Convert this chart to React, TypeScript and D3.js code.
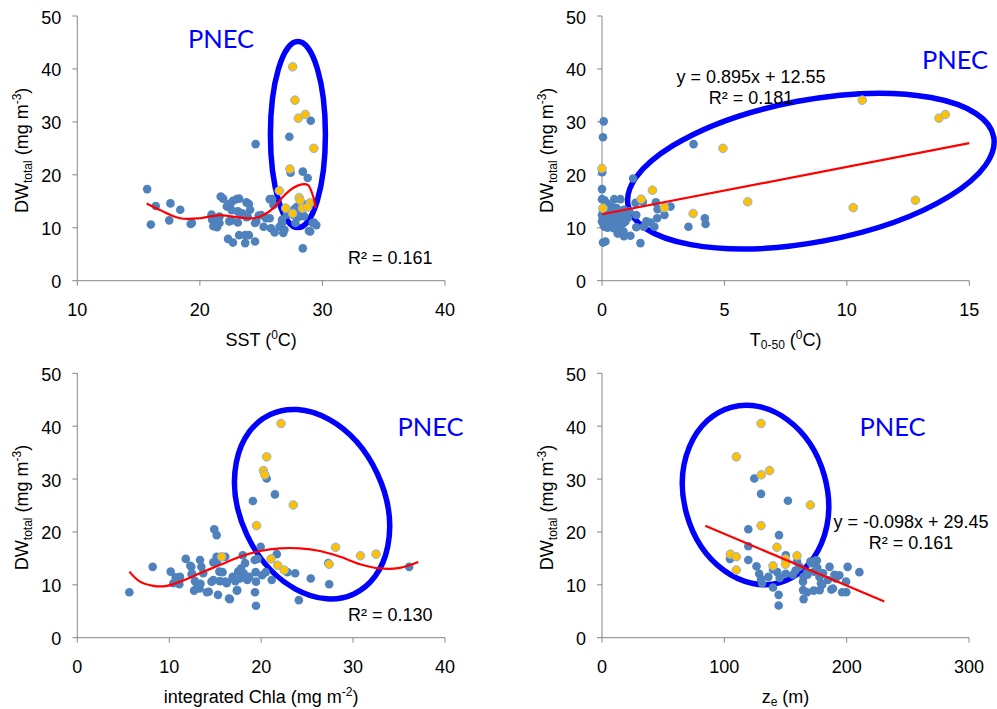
import React from 'react';
import * as d3 from 'd3';

type Pt = [number, number];

const yTicks = [0, 10, 20, 30, 40, 50];

// ---------- Panel 1: SST ----------
const sstTicks = [10, 20, 30, 40];
const sstBlue: Pt[] = [
  [15.7, 17.3], [16.0, 10.6], [16.4, 14.1], [17.5, 11.4], [17.6, 14.6], [18.4, 13.4], [19.25, 10.7], [19.35, 10.9],
  [20.95, 12.5], [21.0, 11.5], [21.1, 10.3], [21.3, 11.2], [21.4, 10.1], [21.6, 10.9], [21.6, 12.1], [21.7, 15.9], [21.9, 15.5],
  [22.2, 14.0], [22.3, 14.3], [22.5, 14.6], [22.7, 15.1], [23.0, 15.4], [23.2, 15.5], [22.4, 11.2], [22.6, 13.3], [22.6, 11.4],
  [23.1, 13.1], [23.1, 11.0], [23.3, 12.8], [23.3, 12.5], [23.5, 12.7], [23.8, 12.0],
  [22.3, 7.9], [22.7, 7.2], [23.2, 8.6], [23.7, 8.6], [23.7, 7.1], [24.0, 8.6], [24.5, 7.4],
  [23.8, 14.8], [24.0, 14.5], [24.1, 13.4], [23.9, 12.1], [24.5, 10.9], [24.6, 11.2], [24.8, 12.3], [25.0, 12.4],
  [25.2, 10.2], [25.4, 11.8], [25.7, 11.8], [25.8, 9.9], [26.1, 9.1], [26.8, 9.0], [26.5, 10.2], [26.7, 10.9],
  [24.55, 25.8], [25.7, 15.4], [26.0, 14.3], [25.9, 15.4],
  [27.3, 27.2], [27.4, 20.4], [28.4, 20.6], [28.8, 19.4], [29.05, 30.2], [28.4, 6.1], [29.0, 9.3], [29.5, 10.5],
  [29.3, 11.0], [29.2, 10.9], [28.9, 9.4],
  [27.7, 13.5], [27.8, 10.9], [27.6, 12.4], [27.9, 13.9], [28.1, 12.1], [28.3, 12.4], [28.5, 12.2], [28.2, 13.0],
  [27.1, 12.5], [26.7, 11.5], [26.9, 9.6], [28.6, 14.4],
];
const sstPnec: Pt[] = [
  [27.57, 40.4], [27.76, 34.1], [28.03, 30.7], [28.6, 31.4], [29.3, 25.0], [27.35, 21.1], [26.48, 17.0],
  [28.1, 15.7], [28.17, 15.2], [27.0, 13.7], [27.57, 12.7], [28.36, 13.7], [28.98, 14.7], [28.8, 13.9],
];
const sstTrend: Pt[] = [
  [15.66, 14.6], [16.75, 13.35], [18.38, 11.8], [20.0, 11.8], [21.6, 12.4], [22.7, 12.1], [24.36, 11.8],
  [25.2, 12.4], [26.0, 13.7], [26.8, 15.9], [27.6, 17.5], [28.3, 18.2], [28.8, 18.1], [29.25, 15.9], [29.45, 13.7],
];

// ---------- Panel 2: T0-50 ----------
const tTicks = [0, 5, 10, 15];
const tBlue: Pt[] = [
  [0.07, 30.1], [0.04, 27.1], [0.01, 20.5], [0.0, 17.3], [0.0, 15.4], [0.1, 15.2], [0.04, 13.4], [0.04, 7.2], [0.14, 7.4],
  [0.5, 15.4], [0.75, 15.4], [0.4, 14.0], [0.2, 14.6], [0.6, 13.7], [0.9, 13.4], [0.3, 13.0],
  [0.0, 12.4], [0.05, 11.8], [0.0, 11.2], [0.06, 10.6], [0.1, 10.2], [0.17, 12.0], [0.2, 11.3], [0.27, 10.5],
  [0.3, 12.3], [0.36, 11.6], [0.42, 10.3], [0.46, 12.6], [0.5, 11.1], [0.57, 10.6], [0.62, 12.1], [0.66, 11.4],
  [0.72, 10.1], [0.75, 12.8], [0.82, 11.7], [0.86, 10.8], [0.92, 12.3], [0.96, 11.2], [1.02, 12.6], [1.06, 11.9],
  [1.12, 13.1], [0.22, 10.0], [0.47, 9.9],
  [0.64, 8.9], [0.88, 9.3], [0.9, 8.4], [1.16, 8.5], [1.57, 7.1],
  [1.27, 19.3], [1.37, 14.7], [1.67, 14.9], [1.4, 12.4], [1.4, 10.1], [1.7, 10.2], [1.81, 11.2], [1.97, 11.0],
  [2.14, 10.2], [2.25, 11.8], [2.2, 14.8], [2.27, 13.5], [2.55, 12.4], [2.8, 14.0], [3.74, 25.8], [3.53, 10.2],
  [4.2, 11.8], [4.23, 10.7],
];
const tPnec: Pt[] = [
  [0.0, 21.2], [0.04, 13.7], [1.6, 15.4], [2.06, 17.1], [2.55, 13.8], [3.72, 12.7], [4.94, 25.0], [5.95, 14.9],
  [10.26, 13.8], [10.63, 34.1], [12.8, 15.2], [13.76, 30.7], [14.02, 31.4],
];
const tSlope = 0.895;
const tIntercept = 12.55;
const tFitRange = [0, 15];

// ---------- Panel 3: integrated Chla ----------
const chlaTicks = [0, 10, 20, 30, 40];
const chlaBlue: Pt[] = [
  [5.66, 8.6], [8.2, 13.4], [10.16, 12.5], [10.45, 10.3], [11.1, 10.1], [11.17, 11.5], [11.8, 14.9], [12.3, 13.6],
  [12.44, 12.0], [12.8, 10.7], [12.7, 8.9], [13.3, 9.3], [13.35, 14.7], [13.5, 13.4], [13.7, 12.2], [14.1, 8.6],
  [14.6, 10.6], [14.8, 14.25], [14.9, 20.5], [15.16, 19.4], [15.16, 15.3], [15.3, 8.1], [15.45, 12.5], [15.5, 10.7],
  [15.8, 12.4], [16.1, 15.3], [16.25, 10.3], [16.6, 7.3], [16.9, 11.5], [17.2, 10.7], [17.4, 9.0], [17.5, 12.5],
  [17.8, 13.1], [17.9, 11.4], [18.0, 15.6], [18.25, 14.1], [18.7, 11.5], [19.1, 25.85], [19.3, 14.7], [19.4, 12.4],
  [19.44, 10.6], [19.33, 8.6], [19.44, 6.05], [19.95, 17.2], [20.5, 12.4], [20.6, 30.1], [21.5, 27.1], [21.15, 10.9],
  [21.7, 15.8], [22.85, 12.4], [23.7, 12.2], [24.1, 7.1], [25.4, 11.2], [27.4, 10.1], [27.3, 14.1], [36.1, 13.4],
  [10.7, 11.4], [11.0, 10.7], [12.4, 13.4], [12.5, 12.1], [13.0, 9.4], [13.4, 10.2], [14.3, 8.7], [14.8, 10.9],
  [15.2, 14.3], [16.1, 10.6], [16.5, 7.4], [16.9, 11.1], [17.35, 8.9], [17.7, 11.2], [18.1, 12.2], [18.5, 10.9],
  [19.6, 14.9], [20.1, 11.8],
];
const chlaPnec: Pt[] = [
  [22.16, 40.5], [20.6, 34.2], [20.24, 31.6], [20.4, 30.8], [23.5, 25.1], [19.5, 21.2], [15.7, 15.3], [21.07, 14.9],
  [21.8, 13.7], [22.5, 12.8], [28.1, 17.1], [27.4, 13.9], [30.8, 15.5], [32.5, 15.8],
];
const chlaTrend: Pt[] = [
  [5.66, 12.5], [6.82, 10.6], [8.27, 9.8], [9.73, 9.8], [11.18, 10.6], [13.35, 12.2], [15.5, 13.75], [17.7, 15.3],
  [19.9, 16.4], [22.06, 16.9], [24.2, 16.9], [26.4, 16.4], [28.6, 15.3], [30.76, 13.9], [32.9, 13.1], [35.1, 13.2], [37.1, 14.3],
];

// ---------- Panel 4: ze ----------
const zeTicks = [0, 100, 200, 300];
const zeBlue: Pt[] = [
  [124.5, 30.1], [130, 27.2], [152, 25.9], [119.6, 20.5], [144.7, 19.4], [119.6, 17.3], [104.6, 14.9], [119.6, 14.7],
  [126.3, 13.5], [128.5, 12.1], [130, 11.1], [130.8, 10.3], [136, 11.5], [139.8, 12.9], [139.8, 9.5], [143.3, 12.4],
  [145.2, 11.3], [144.4, 8.1], [144.4, 6.1], [150.2, 15.6], [150.2, 12.1], [156, 11.9], [158.2, 12.7], [161.4, 13.4],
  [159.4, 14.4], [164.7, 11.5], [164.3, 10.6], [167.7, 12.3], [171, 14.1], [173.6, 12.5], [174.5, 14.6], [177.8, 11.5],
  [179, 10.3], [180.7, 12.2], [184.6, 10.9], [186, 13.4], [188.8, 9.3], [191, 11.2], [194, 11.8], [199.5, 10.6],
  [200.8, 13.4], [210.4, 12.4], [164.4, 9.0], [167.7, 8.6], [173, 8.9], [178, 9.0], [187.5, 9.1], [196.3, 8.6],
  [164.8, 7.3], [170.3, 14.4], [175.7, 14.6], [180, 10.0], [190, 11.9], [199.7, 8.6], [168, 11.9], [176, 13.2],
];
const zePnec: Pt[] = [
  [130, 40.5], [109.8, 34.2], [130.2, 30.8], [137, 31.6], [170.3, 25.1], [130, 21.2], [143, 17.1], [104.9, 15.8],
  [109.8, 15.3], [159.4, 15.5], [150, 14.9], [150, 13.9], [139.8, 13.6], [109.8, 12.8],
];
const zeSlope = -0.098;
const zeIntercept = 29.45;
const zeFitRange = [84.4, 230.8];

// ---------- styling ----------
const AXIS = '#868686';
const BLUE = '#4f81bd';
const ORANGE = '#ffc000';
const ORANGE_EDGE = '#8eb4e3';
const RED = '#ff0000';
const PNEC_BLUE = '#0000ff';
const FONT = '"Liberation Sans", Arial, sans-serif';
const PNEC_FONT = 'Lato, "Open Sans", sans-serif';

type Cfg = {
  left: number; right: number; top: number; bottom: number;
  xDomain: [number, number]; xTicks: number[];
  blue: Pt[]; pnec: Pt[];
  trend: Pt[]; smooth: boolean;
  ellipse: { c: Pt; rx: number; ry: number; rot: number };
  pnecLabel: [number, number];
  fitText: { lines: string[]; x: number; y: number; anchor: 'start' | 'middle' };
  xTitle: React.ReactNode;
};

function linePts(slope: number, intercept: number, range: number[]): Pt[] {
  return range.map((v) => [v, slope * v + intercept] as Pt);
}

const SUB = 12;

const panels: Cfg[] = [
  {
    left: 77.3, right: 445, top: 16, bottom: 280.7,
    xDomain: [10, 40], xTicks: sstTicks, blue: sstBlue, pnec: sstPnec,
    trend: sstTrend, smooth: true,
    ellipse: { c: [28.0, 27.6], rx: 27.5, ry: 93, rot: 0 },
    pnecLabel: [221, 48.3],
    fitText: { lines: ['R² = 0.161'], x: 348, y: 264.3, anchor: 'start' },
    xTitle: (
      <>
        SST (<tspan fontSize={SUB} dy={-7}>0</tspan><tspan dy={7}>C)</tspan>
      </>
    ),
  },
  {
    left: 602, right: 969.3, top: 16, bottom: 280.7,
    xDomain: [0, 15], xTicks: tTicks, blue: tBlue, pnec: tPnec,
    trend: linePts(tSlope, tIntercept, tFitRange), smooth: false,
    ellipse: { c: [8.53, 20.7], rx: 186, ry: 71, rot: -10.6 },
    pnecLabel: [955, 69.3],
    fitText: { lines: ['y = 0.895x + 12.55', 'R² = 0.181'], x: 751, y: 83.3, anchor: 'middle' },
    xTitle: (
      <>
        T<tspan fontSize={SUB} dy={3.5}>0-50</tspan><tspan dy={-3.5}> (</tspan><tspan fontSize={SUB} dy={-7}>0</tspan><tspan dy={7}>C)</tspan>
      </>
    ),
  },
  {
    left: 77.3, right: 445, top: 373.3, bottom: 637.7,
    xDomain: [0, 40], xTicks: chlaTicks, blue: chlaBlue, pnec: chlaPnec,
    trend: chlaTrend, smooth: true,
    ellipse: { c: [25.54, 25.25], rx: 72, ry: 99, rot: -25 },
    pnecLabel: [430.5, 436],
    fitText: { lines: ['R² = 0.130'], x: 348, y: 620.7, anchor: 'start' },
    xTitle: (
      <>
        integrated Chla (mg m<tspan fontSize={SUB} dy={-7}>-2</tspan><tspan dy={7}>)</tspan>
      </>
    ),
  },
  {
    left: 602, right: 969, top: 373.3, bottom: 637.7,
    xDomain: [0, 300], xTicks: zeTicks, blue: zeBlue, pnec: zePnec,
    trend: linePts(zeSlope, zeIntercept, zeFitRange), smooth: false,
    ellipse: { c: [125.5, 27.0], rx: 71.5, ry: 91, rot: -15.6 },
    pnecLabel: [892.5, 436],
    fitText: { lines: ['y = -0.098x + 29.45', 'R² = 0.161'], x: 911, y: 528.3, anchor: 'middle' },
    xTitle: (
      <>
        z<tspan fontSize={SUB} dy={3}>e</tspan><tspan dy={-3}> (m)</tspan>
      </>
    ),
  },
];

function Panel({ cfg }: { cfg: Cfg }) {
  const x = d3.scaleLinear().domain(cfg.xDomain).range([cfg.left, cfg.right]);
  const y = d3.scaleLinear().domain([0, 50]).range([cfg.bottom, cfg.top]);
  const line = d3
    .line<Pt>()
    .x((d) => x(d[0]))
    .y((d) => y(d[1]))
    .curve(cfg.smooth ? d3.curveCatmullRom.alpha(0.5) : d3.curveLinear);
  const ex = x(cfg.ellipse.c[0]);
  const ey = y(cfg.ellipse.c[1]);
  const midY = (cfg.top + cfg.bottom) / 2 + 2;
  return (
    <g>
      {/* axes */}
      <line x1={cfg.left} x2={cfg.left} y1={y(0)} y2={y(50)} stroke={AXIS} strokeWidth={1} />
      <line x1={x(cfg.xDomain[0])} x2={x(cfg.xDomain[1])} y1={y(0)} y2={y(0)} stroke={AXIS} strokeWidth={1} />
      {yTicks.map((t) => (
        <g key={'y' + t}>
          <line x1={cfg.left - 5} x2={cfg.left} y1={y(t)} y2={y(t)} stroke={AXIS} />
          <text x={cfg.left - 16} y={y(t) + 7.5} textAnchor="end" fontSize={18} fontFamily={FONT} fill="#000">
            {t}
          </text>
        </g>
      ))}
      {cfg.xTicks.map((t) => (
        <g key={'x' + t}>
          <line x1={x(t)} x2={x(t)} y1={cfg.bottom} y2={cfg.bottom + 5} stroke={AXIS} />
          <text x={x(t)} y={cfg.bottom + 35.5} textAnchor="middle" fontSize={18} fontFamily={FONT} fill="#000">
            {t}
          </text>
        </g>
      ))}
      {/* axis titles */}
      <text
        transform={`translate(${cfg.left - 49},${midY}) rotate(-90)`}
        textAnchor="middle"
        fontSize={18}
        fontFamily={FONT}
        fill="#000"
      >
        DW<tspan fontSize={SUB} dy={4}>total</tspan>
        <tspan dy={-4}> (mg m</tspan>
        <tspan fontSize={SUB} dy={-7}>-3</tspan>
        <tspan dy={7}>)</tspan>
      </text>
      <text x={(cfg.left + cfg.right) / 2} y={cfg.bottom + 65} textAnchor="middle" fontSize={18} fontFamily={FONT} fill="#000">
        {cfg.xTitle}
      </text>
      {/* ellipse */}
      <ellipse
        cx={ex}
        cy={ey}
        rx={cfg.ellipse.rx}
        ry={cfg.ellipse.ry}
        transform={`rotate(${cfg.ellipse.rot},${ex},${ey})`}
        fill="none"
        stroke={PNEC_BLUE}
        strokeWidth={5.5}
      />
      {/* points */}
      {cfg.blue.map((d, i) => (
        <circle key={'b' + i} cx={x(d[0])} cy={y(d[1])} r={4.3} fill={BLUE} />
      ))}
      {cfg.pnec.map((d, i) => (
        <circle key={'o' + i} cx={x(d[0])} cy={y(d[1])} r={4.3} fill={ORANGE} stroke={ORANGE_EDGE} strokeWidth={1} />
      ))}
      {/* trend */}
      <path d={line(cfg.trend) || ''} fill="none" stroke={RED} strokeWidth={2.2} />
      {/* fit text */}
      {cfg.fitText.lines.map((s, i) => (
        <text
          key={'f' + i}
          x={cfg.fitText.x}
          y={cfg.fitText.y + i * 20.7}
          textAnchor={cfg.fitText.anchor}
          fontSize={18}
          fontFamily={FONT}
          fill="#000"
        >
          {s}
        </text>
      ))}
      {/* PNEC label */}
      <text x={cfg.pnecLabel[0]} y={cfg.pnecLabel[1]} textAnchor="middle" fontSize={25.5} fontFamily={PNEC_FONT} fill={PNEC_BLUE}>
        PNEC
      </text>
    </g>
  );
}

export default function App() {
  return (
    <svg
      width={997}
      height={709}
      viewBox="0 0 997 709"
      style={{ position: 'absolute', left: 0, top: 0, background: '#fff' }}
    >
      <rect x={0} y={0} width={997} height={709} fill="#fff" />
      {panels.map((p, i) => (
        <Panel key={i} cfg={p} />
      ))}
    </svg>
  );
}
